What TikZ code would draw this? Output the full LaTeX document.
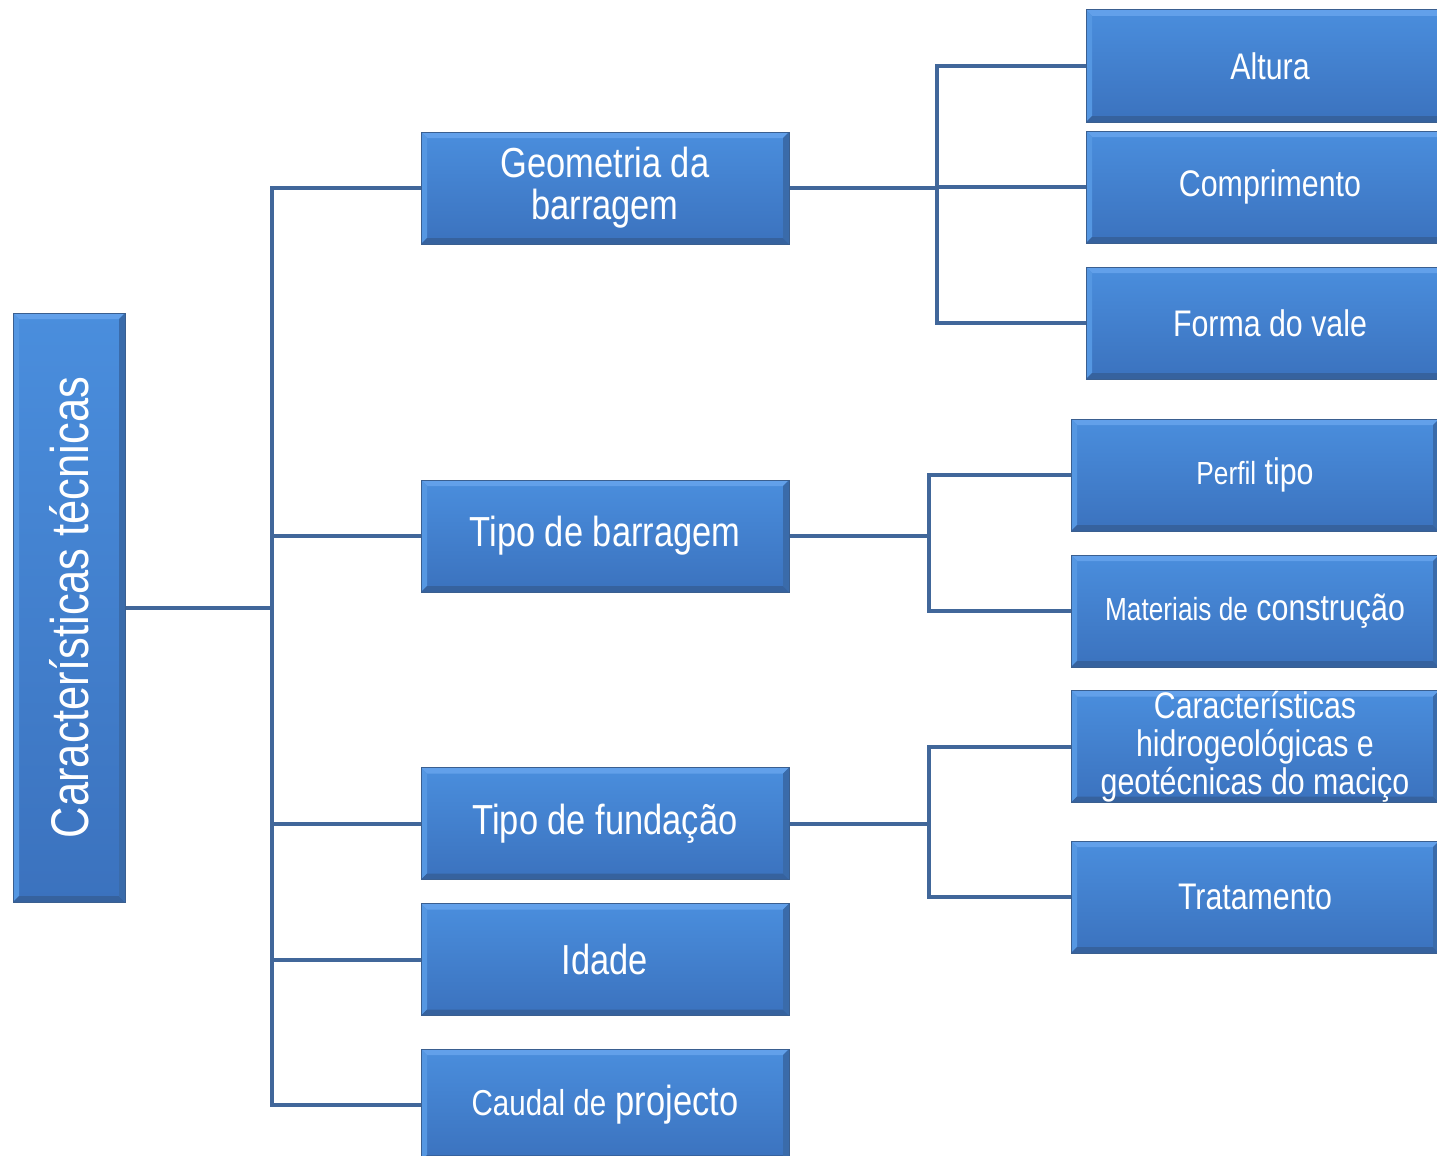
\documentclass[tikz,border=0pt]{standalone}
\usepackage{graphicx}
\usepackage{fontspec}
\setmainfont{Liberation Sans}[FakeStretch=0.82]
\usetikzlibrary{calc,backgrounds}

\definecolor{boxtop}{HTML}{4A8EDD}
\definecolor{boxbot}{HTML}{3B72BE}
\definecolor{boxedge}{HTML}{3A5F90}
\definecolor{bvtop}{HTML}{62A0EA}
\definecolor{bvleft}{HTML}{5597E2}
\definecolor{bvbot}{HTML}{36629E}
\definecolor{bvright}{HTML}{3A6BAA}
\definecolor{linkcol}{HTML}{41679A}

\def\bvw{6pt}

\tikzset{
  x=1pt, y=-1pt,
  box/.style={
    rectangle, inner sep=0pt, align=center, text=white,
    minimum width=368pt, minimum height=112pt,
    top color=boxtop, bottom color=boxbot,
    draw=boxedge, line width=1pt,
    path picture={
      \fill[bvtop] (path picture bounding box.north west) -- (path picture bounding box.north east)
        -- ([shift={(-\bvw,-\bvw)}]path picture bounding box.north east)
        -- ([shift={(\bvw,-\bvw)}]path picture bounding box.north west) -- cycle;
      \fill[bvleft] (path picture bounding box.north west) -- (path picture bounding box.south west)
        -- ([shift={(\bvw,\bvw)}]path picture bounding box.south west)
        -- ([shift={(\bvw,-\bvw)}]path picture bounding box.north west) -- cycle;
      \fill[bvbot] (path picture bounding box.south west) -- (path picture bounding box.south east)
        -- ([shift={(-\bvw,\bvw)}]path picture bounding box.south east)
        -- ([shift={(\bvw,\bvw)}]path picture bounding box.south west) -- cycle;
      \fill[bvright] (path picture bounding box.north east) -- (path picture bounding box.south east)
        -- ([shift={(-\bvw,\bvw)}]path picture bounding box.south east)
        -- ([shift={(-\bvw,-\bvw)}]path picture bounding box.north east) -- cycle;
    }},
  midfont/.style={font=\fontsize{42}{42}\selectfont},
  rightfont/.style={font=\fontsize{37}{38}\selectfont},
  link/.style={draw=linkcol, line width=4pt, line cap=rect},
}

\begin{document}
\begin{tikzpicture}
\clip (0,0) rectangle (1437,1156);

% branch rails
\coordinate (t1) at (272,0);
\coordinate (t2) at (937,0);
\coordinate (t3) at (929,0);

% root
\node[box, minimum width=112pt, minimum height=589pt,
      font=\fontsize{53}{53}\selectfont] (root) at (69,607.5)
  {\rotatebox{90}{Características técnicas}};

% second level
\node[box, midfont] (geo) at (605,188) {Geometria da\\barragem};
\node[box, midfont] (tb)  at (605,536) {Tipo de barragem};
\node[box, midfont] (tf)  at (605,823.5) {Tipo de fundação};
\node[box, midfont] (id)  at (605,959.5) {Idade};
\node[box, midfont] (cp)  at (605,1105)
  {{\fontsize{36}{42}\selectfont Caudal de} projecto};

% third level
\node[box, rightfont] (alt) at (1270,66)  {Altura};
\node[box, rightfont] (com) at (1270,187) {Comprimento};
\node[box, rightfont] (fv)  at (1270,323) {Forma do vale};
\node[box, rightfont] (pt)  at (1255,475)
  {{\fontsize{32}{38}\selectfont Perfil} tipo};
\node[box, rightfont] (mc)  at (1255,611)
  {{\fontsize{32}{38}\selectfont Materiais de} construção};
\node[box, rightfont] (ch)  at (1255,746.5)
  {Características\\hidrogeológicas e\\geotécnicas do maciço};
\node[box, rightfont] (tr)  at (1255,897) {Tratamento};

% connectors, behind the boxes
\begin{scope}[on background layer]
  \fill[white] (0,0) rectangle (1437,1156);
  % root to second level
  \draw[link] (root.east) -- (root.east -| t1);
  \draw[link] (t1 |- geo.west) -- (t1 |- cp.west);
  \foreach \n in {geo,tb,tf,id,cp}
    \draw[link] (t1 |- \n.west) -- (\n.west);
  % geometry branch
  \draw[link] (geo.east) -- (geo.east -| t2);
  \draw[link] (t2 |- alt.west) -- (t2 |- fv.west);
  \foreach \n in {alt,com,fv}
    \draw[link] (t2 |- \n.west) -- (\n.west);
  % dam type branch
  \draw[link] (tb.east) -- (tb.east -| t3);
  \draw[link] (t3 |- pt.west) -- (t3 |- mc.west);
  \foreach \n in {pt,mc}
    \draw[link] (t3 |- \n.west) -- (\n.west);
  % foundation branch
  \draw[link] (tf.east) -- (tf.east -| t3);
  \draw[link] (t3 |- ch.west) -- (t3 |- tr.west);
  \foreach \n in {ch,tr}
    \draw[link] (t3 |- \n.west) -- (\n.west);
\end{scope}

\end{tikzpicture}
\end{document}
